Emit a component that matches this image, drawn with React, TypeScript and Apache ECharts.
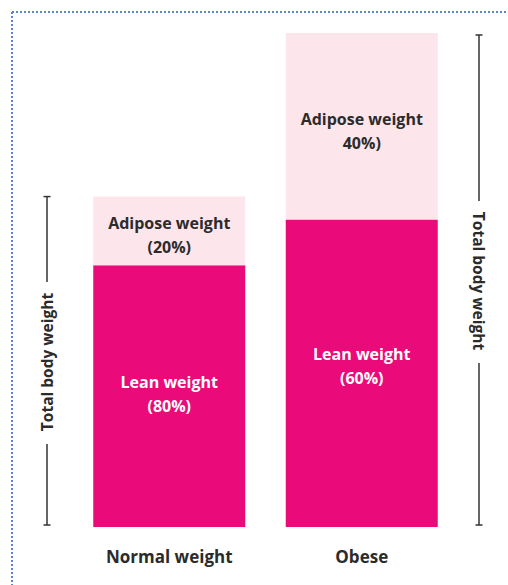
import React, { useEffect, useRef } from "react";
import * as echarts from "echarts";

const categories = ["Normal weight", "Obese"];
const leanValues = [80, 94];
const adiposeValues = [21, 57];
const leanLabels = ["Lean weight\n(80%)", "Lean weight\n(60%)"];
const adiposeLabels = ["Adipose weight\n(20%)", "Adipose weight\n40%)"];
const bracketText = "Total body weight";

const FONT = "'Open Sans', sans-serif";

export default function App() {
  const ref = useRef<HTMLDivElement>(null);
  useEffect(() => {
    if (!ref.current) return;
    const chart = echarts.init(ref.current, null, { renderer: "svg" });
    const yMax = leanValues[1] + adiposeValues[1];
    const leanOffsets = [[0, -2], [0, -7]];
    const adiposeOffsets = [[0, 4], [0, 5]];
    chart.setOption({
      animation: false,
      grid: { left: 73, right: 50, top: 33, bottom: 58 },
      xAxis: {
        type: "category",
        data: categories,
        axisLine: { show: false },
        axisTick: { show: false },
        axisLabel: {
          margin: 21,
          color: "#2b2b2b",
          fontFamily: FONT,
          fontWeight: "bold",
          fontSize: 17,
        },
      },
      yAxis: {
        type: "value",
        min: 0,
        max: yMax,
        show: false,
        splitLine: { show: false },
      },
      series: [
        {
          type: "bar",
          stack: "w",
          barWidth: 152,
          data: leanValues.map((v, i) => ({ value: v, label: { offset: leanOffsets[i] } })),
          itemStyle: { color: "#ea0a7a" },
          label: {
            show: true,
            position: "inside",
            formatter: (p: any) => leanLabels[p.dataIndex],
            color: "#ffffff",
            fontFamily: FONT,
            fontWeight: "bold",
            fontSize: 16,
            lineHeight: 24,
          },
        },
        {
          type: "bar",
          stack: "w",
          barWidth: 152,
          data: adiposeValues.map((v, i) => ({ value: v, label: { offset: adiposeOffsets[i] } })),
          itemStyle: { color: "#fde5ec" },
          label: {
            show: true,
            position: "inside",
            formatter: (p: any) => adiposeLabels[p.dataIndex],
            color: "#2b2b2b",
            fontFamily: FONT,
            fontWeight: "bold",
            fontSize: 16,
            lineHeight: 24,
          },
        },
      ],
    });

    const y0 = chart.convertToPixel({ yAxisIndex: 0 }, 0) as number;
    const yN = chart.convertToPixel({ yAxisIndex: 0 }, leanValues[0] + adiposeValues[0]) as number;
    const yO = chart.convertToPixel({ yAxisIndex: 0 }, leanValues[1] + adiposeValues[1]) as number;
    const lineStyle = { stroke: "#333", lineWidth: 1.5 };
    const bracket = (x: number, top: number, bottom: number, textCenter: number, rot: number) => {
      const half = 72;
      return [
        { type: "line", shape: { x1: x, y1: top, x2: x, y2: textCenter - half - 8 }, style: lineStyle },
        { type: "line", shape: { x1: x, y1: textCenter + half + 10, x2: x, y2: bottom }, style: lineStyle },
        { type: "line", shape: { x1: x - 3.5, y1: top, x2: x + 3.5, y2: top }, style: lineStyle },
        { type: "line", shape: { x1: x - 3.5, y1: bottom, x2: x + 3.5, y2: bottom }, style: lineStyle },
        {
          type: "text",
          x,
          y: textCenter,
          rotation: rot,
          style: {
            text: bracketText,
            fill: "#2b2b2b",
            font: `bold 15.5px ${FONT}`,
            align: "center",
            verticalAlign: "middle",
          },
        },
      ];
    };
    chart.setOption({
      graphic: [
        { type: "line", shape: { x1: 12, y1: 12, x2: 508, y2: 12 }, style: { stroke: "#5a86cc", lineWidth: 2, lineDash: [2, 2] } },
        { type: "line", shape: { x1: 12, y1: 12, x2: 12, y2: 585 }, style: { stroke: "#5a86cc", lineWidth: 2, lineDash: [2, 2] } },
        ...bracket(47, yN, y0 - 2, 362, Math.PI / 2),
        ...bracket(479, yO + 2, y0 - 2, 281, -Math.PI / 2),
      ],
    });
    return () => chart.dispose();
  }, []);
  return (
    <div
      ref={ref}
      style={{ position: "fixed", left: 0, top: 0, width: 508, height: 585, background: "#fff" }}
    />
  );
}
